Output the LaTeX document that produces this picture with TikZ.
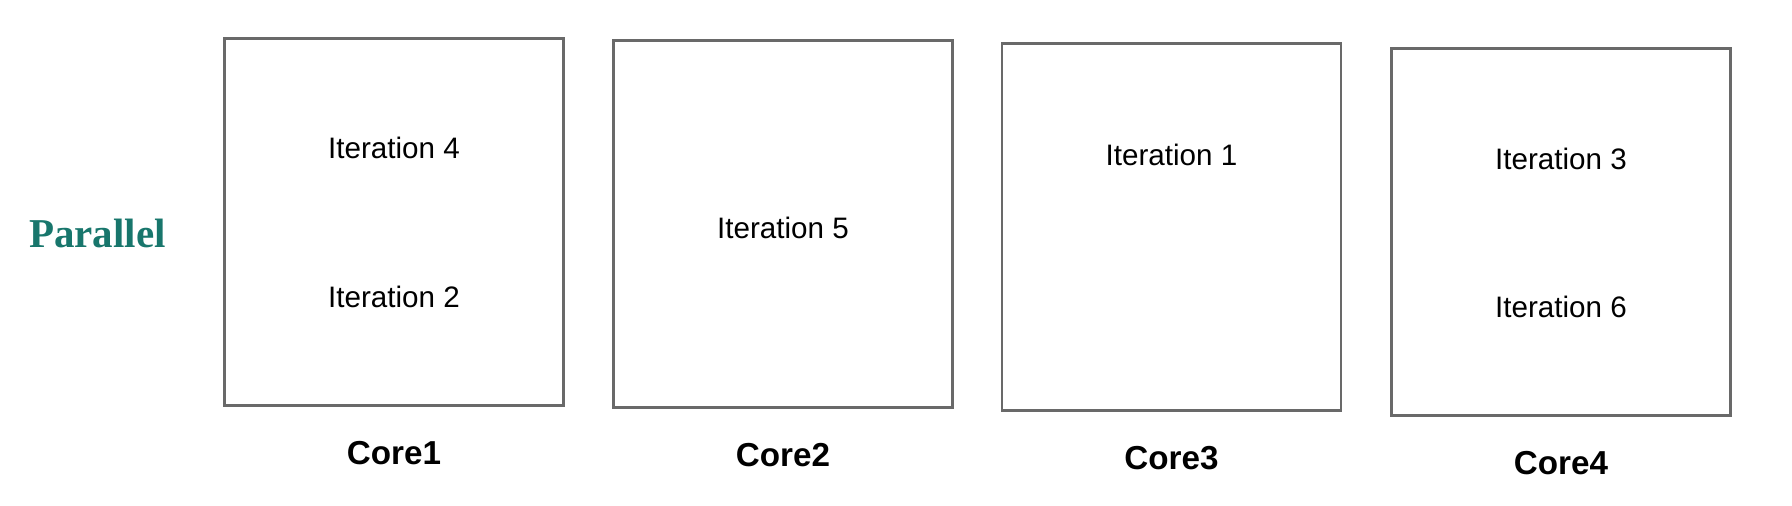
\documentclass[tikz,border=0pt]{standalone}
\usepackage{fontspec}
\setmainfont{Liberation Sans}
\newfontfamily\titlefont{Liberation Serif}
\usepackage{tikz}
\usetikzlibrary{positioning}
\definecolor{tealtext}{RGB}{24,118,108}
\definecolor{boxgray}{RGB}{105,105,105}

\begin{document}
\begin{tikzpicture}[x=0.5pt, y=-0.5pt,
        corebox/.style={draw=boxgray, line width=1.25pt, rectangle,
                        minimum width=169.5pt, minimum height=183.5pt, inner sep=0pt},
        iter/.style={font=\fontsize{14.8pt}{17pt}\selectfont},
        corelabel/.style={font=\fontsize{16.6pt}{19pt}\selectfont\bfseries,
                          inner sep=0pt, text height=11.9pt, text depth=0pt}]
                \useasboundingbox (0,0) rectangle (1792,505);

                \node[font=\titlefont\fontsize{20.5pt}{24pt}\selectfont\bfseries, text=tealtext]
                                     (par) at (97.5,233)    {Parallel};

                \node[corebox]       (c1)  at (394,222)     {};
                \node[corebox]       (c2)  at (783,224)     {};
                \node[corebox]       (c3)  at (1171.5,227)  {};
                \node[corebox]       (c4)  at (1561,232)    {};

                \node[corelabel]     (l1)  [below=17pt of c1]   {Core1};
                \node[corelabel]     (l2)  [below=17pt of c2]   {Core2};
                \node[corelabel]     (l3)  [below=17pt of c3]   {Core3};
                \node[corelabel]     (l4)  [below=17pt of c4]   {Core4};

                \node[iter]          (i4)  at (394,148)     {Iteration 4};
                \node[iter]          (i2)  at (394,297)     {Iteration 2};
                \node[iter]          (i5)  at (783,228)     {Iteration 5};
                \node[iter]          (i1)  at (1171.5,155)  {Iteration 1};
                \node[iter]          (i3)  at (1561,159)    {Iteration 3};
                \node[iter]          (i6)  at (1561,307)    {Iteration 6};
            \end{tikzpicture}
\end{document}
